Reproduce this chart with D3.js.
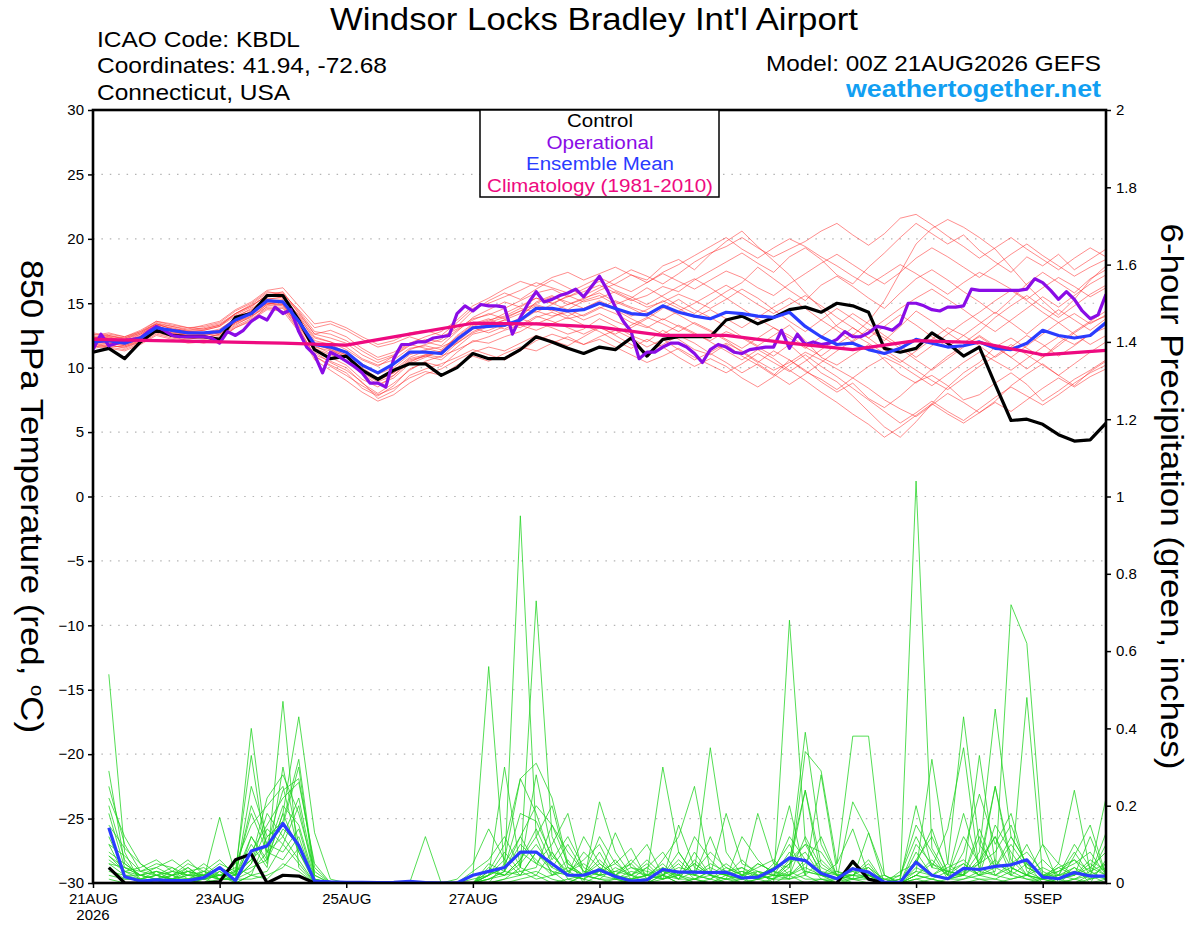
<!DOCTYPE html>
<html>
<head>
<meta charset="utf-8">
<script src="https://cdnjs.cloudflare.com/ajax/libs/d3/7.8.5/d3.min.js"></script>
<style>
  body { margin: 0; background: #fff; }
  svg text { font-family: "Liberation Sans", Arial, Helvetica, sans-serif; }
</style>
</head>
<body>
<div id="chart"></div>
<script>
'use strict';

// 6-hourly steps from 00Z 21AUG2026 (0..64)
var dayTickSteps = [0, 8, 16, 24, 32, 44, 52, 60];
var dayTickLabels = ['21AUG', '23AUG', '25AUG', '27AUG', '29AUG', '1SEP', '3SEP', '5SEP'];
var tempTicks = [-30, -25, -20, -15, -10, -5, 0, 5, 10, 15, 20, 25, 30];
var precipTicks = [0, 0.2, 0.4, 0.6, 0.8, 1, 1.2, 1.4, 1.6, 1.8, 2];

// control run, 850 hPa temperature (6-hourly)
var controlTemp = [
  11.2, 11.5, 10.7, 12.0, 12.9, 12.5, 12.4, 12.4, 12.2, 13.9,
  14.2, 15.6, 15.6, 13.7, 11.4, 10.7, 10.9, 9.8, 9.1, 9.8,
  10.3, 10.3, 9.4, 10.0, 11.1, 10.7, 10.7, 11.4, 12.4, 12.0,
  11.5, 11.1, 11.6, 11.4, 12.3, 10.9, 12.2, 12.4, 12.4, 12.4,
  13.7, 14.0, 13.4, 13.9, 14.5, 14.7, 14.3, 15.0, 14.8, 14.3,
  11.5, 11.2, 11.5, 12.7, 11.9, 10.9, 11.6, 8.7, 5.9, 6.0,
  5.6, 4.8, 4.3, 4.4, 5.7
];

// ensemble mean, 850 hPa temperature (6-hourly)
var meanTemp = [
  12.0, 12.1, 11.9, 12.3, 13.1, 12.9, 12.7, 12.7, 12.8, 13.7,
  14.2, 15.2, 15.1, 13.6, 11.8, 11.6, 11.2, 10.2, 9.6, 10.3,
  11.2, 11.2, 11.1, 12.2, 13.1, 13.2, 13.3, 13.7, 14.6, 14.6,
  14.4, 14.5, 15.0, 14.6, 14.2, 14.1, 14.8, 14.3, 14.0, 13.8,
  14.3, 14.2, 14.0, 13.9, 14.3, 13.2, 12.4, 11.8, 11.9, 11.4,
  11.1, 11.5, 12.2, 11.9, 11.6, 11.7, 12.0, 11.5, 11.4, 11.9,
  12.9, 12.5, 12.3, 12.5, 13.5
];

// operational run, 850 hPa temperature (3-hourly)
var operTemp = [
  11.4, 12.6, 11.7, 11.9, 12.1, 12.2, 12.3, 12.8, 13.2, 12.9,
  12.5, 12.4, 12.4, 12.4, 12.4, 12.3, 11.9, 12.8, 12.5, 12.9,
  13.6, 14.0, 13.7, 14.7, 14.2, 14.5, 12.8, 11.6, 11.0, 9.6,
  11.2, 10.9, 10.5, 10.1, 9.6, 8.8, 8.8, 8.5, 10.7, 11.8,
  11.8, 12.0, 12.0, 12.3, 12.4, 12.5, 14.2, 14.8, 14.4, 14.9,
  14.8, 14.8, 14.7, 12.6, 13.9, 15.0, 15.9, 15.1, 15.3, 15.6,
  15.8, 16.1, 15.5, 16.3, 17.1, 16.0, 14.7, 13.6, 12.8, 10.7,
  11.2, 11.2, 11.6, 11.9, 11.9, 11.6, 11.1, 10.4, 11.4, 11.8,
  11.6, 11.2, 11.1, 11.4, 11.5, 11.6, 11.6, 12.9, 11.5, 12.6,
  11.8, 12.0, 11.8, 11.9, 12.2, 12.8, 12.4, 12.4, 12.7, 13.2,
  13.1, 12.9, 13.4, 15.0, 15.0, 14.8, 14.5, 14.4, 14.7, 14.7,
  14.8, 16.1, 16.0, 16.0, 16.0, 16.0, 16.0, 16.0, 16.1, 16.9,
  16.6, 16.0, 15.3, 15.9, 15.3, 14.4, 13.8, 14.1, 15.7
];

// climatology 1981-2010 (daily)
var climTemp = [12.2, 12.1, 12.0, 11.9, 11.75, 12.6, 13.45, 13.4, 13.15, 12.5, 12.5, 11.9, 11.4, 12.1, 11.95, 11.0, 11.35];

// ensemble members, 850 hPa temperature (6-hourly)
var tempMembers = [
  [12.3, 12.5, 12.2, 12.6, 13.4, 13.0, 12.9, 13.1, 13.4, 14.2, 14.8, 15.6, 15.9, 14.2, 12.6, 12.9,
   12.4, 11.5, 10.8, 11.2, 11.9, 12.1, 12.4, 13.0, 13.8, 14.1, 14.6, 15.2, 15.8, 16.1, 15.5, 15.9,
   16.4, 15.8, 15.2, 15.6, 16.3, 15.9, 16.8, 17.5, 18.2, 18.9, 18.1, 17.4, 18.6, 19.3, 18.4, 17.2,
   16.5, 17.8, 18.9, 20.1, 21.2, 20.4, 19.6, 20.3, 19.1, 18.2, 17.4, 18.6, 17.9, 18.8, 17.6, 18.4, 19.2],
  [11.8, 11.6, 11.4, 11.9, 12.6, 12.3, 12.1, 11.9, 12.2, 13.1, 13.6, 14.8, 14.9, 13.1, 10.9, 10.2,
   9.6, 8.4, 7.8, 8.6, 9.9, 10.4, 10.1, 11.2, 12.1, 11.9, 12.4, 12.8, 13.5, 13.1, 12.6, 13.0,
   13.8, 13.2, 12.5, 12.0, 12.9, 12.2, 11.4, 11.0, 11.8, 10.9, 10.2, 9.4, 10.6, 9.8, 8.9, 8.1,
   8.8, 7.6, 6.9, 7.8, 8.9, 9.4, 8.6, 7.5, 7.9, 8.8, 9.6, 8.7, 7.4, 8.2, 9.1, 9.8, 10.6],
  [12.1, 12.4, 12.0, 12.5, 13.3, 12.8, 12.5, 12.6, 12.9, 13.9, 14.6, 15.4, 15.3, 13.9, 12.3, 12.0,
   11.4, 10.6, 10.1, 10.9, 11.8, 11.5, 11.2, 12.5, 13.4, 13.8, 13.2, 13.9, 15.1, 15.6, 14.9, 15.3,
   16.0, 16.5, 17.2, 16.8, 17.9, 18.4, 17.6, 18.8, 19.8, 20.6, 19.4, 18.3, 17.2, 15.8, 14.6, 13.2,
   12.5, 13.6, 15.2, 17.4, 19.6, 20.8, 21.5, 20.9, 20.1, 19.2, 17.8, 16.4, 15.2, 14.1, 15.3, 16.8, 17.9],
  [12.0, 11.9, 11.7, 12.2, 13.0, 12.7, 12.4, 12.3, 12.6, 13.5, 14.1, 15.0, 14.8, 13.2, 11.4, 10.8,
   10.2, 9.1, 8.5, 9.4, 10.6, 10.9, 10.6, 11.6, 12.6, 12.9, 13.4, 13.1, 13.9, 14.3, 13.8, 14.1,
   14.7, 14.2, 13.5, 13.1, 13.8, 13.2, 12.6, 12.1, 12.8, 12.3, 11.6, 10.9, 11.8, 10.7, 9.6, 8.9,
   7.8, 6.6, 5.4, 4.6, 5.8, 7.2, 8.5, 9.6, 10.4, 11.6, 12.3, 11.5, 10.8, 11.9, 12.8, 13.6, 14.4],
  [12.5, 12.7, 12.4, 12.9, 13.6, 13.3, 13.1, 13.2, 13.5, 14.4, 15.0, 15.9, 15.7, 14.5, 13.1, 13.4,
   12.9, 12.2, 11.6, 11.9, 12.4, 12.0, 11.7, 12.8, 13.9, 14.5, 15.1, 14.7, 15.4, 15.0, 14.5, 15.2,
   15.6, 14.9, 15.4, 16.2, 15.5, 14.8, 14.2, 15.1, 15.9, 16.6, 17.8, 16.9, 16.0, 15.2, 16.4, 17.1,
   16.3, 15.4, 14.6, 15.8, 16.9, 17.6, 16.8, 15.9, 15.1, 14.2, 15.3, 16.5, 17.4, 16.6, 15.8, 16.9, 17.6],
  [11.6, 11.8, 11.5, 12.0, 12.8, 12.5, 12.2, 12.4, 12.5, 13.4, 13.9, 14.9, 15.2, 13.4, 11.2, 10.4,
   9.8, 8.9, 7.6, 8.2, 9.4, 9.9, 10.3, 10.8, 11.4, 11.0, 10.6, 11.3, 12.1, 12.6, 12.2, 11.8,
   12.4, 12.9, 12.3, 11.6, 12.2, 11.4, 10.6, 11.2, 11.9, 11.3, 10.5, 9.8, 10.4, 11.2, 10.6, 9.9,
   9.2, 10.1, 10.8, 10.2, 9.4, 8.6, 9.5, 10.4, 11.2, 10.5, 9.8, 10.7, 11.6, 12.4, 11.8, 12.6, 13.3],
  [12.2, 12.3, 12.1, 12.4, 13.2, 12.9, 12.8, 12.9, 13.2, 14.0, 14.5, 15.3, 15.5, 14.0, 12.1, 11.8,
   11.2, 10.3, 9.6, 10.2, 11.4, 11.8, 12.2, 13.2, 14.4, 15.2, 15.8, 15.3, 16.1, 16.8, 16.2, 15.6,
   16.2, 16.9, 17.6, 17.1, 16.5, 17.3, 18.2, 18.9, 19.4, 20.1, 19.3, 18.6, 19.2, 19.8, 20.6, 21.2,
   20.3, 19.5, 20.4, 21.6, 21.9, 21.1, 20.2, 19.4, 18.5, 19.3, 20.1, 19.2, 18.4, 17.6, 18.5, 19.3, 18.6],
  [11.9, 12.0, 11.8, 12.3, 13.1, 12.6, 12.5, 12.5, 12.7, 13.6, 14.3, 15.2, 15.0, 13.5, 11.6, 11.3,
   10.9, 10.0, 9.2, 9.8, 10.8, 11.3, 11.0, 12.0, 13.0, 13.4, 13.0, 13.6, 14.4, 14.0, 14.3, 13.7,
   14.2, 13.6, 13.1, 13.8, 14.6, 15.3, 14.5, 13.9, 13.2, 12.4, 11.7, 12.5, 13.3, 12.1, 10.8, 10.2,
   11.0, 11.8, 10.6, 9.5, 8.8, 9.9, 10.9, 11.7, 12.4, 11.6, 10.8, 11.7, 12.6, 13.5, 14.2, 13.4, 14.1],
  [12.4, 12.2, 12.0, 12.6, 13.3, 13.1, 12.8, 12.7, 13.0, 13.8, 14.4, 15.5, 15.6, 13.8, 11.9, 11.4,
   11.0, 9.9, 9.0, 9.6, 10.7, 11.0, 10.8, 11.9, 12.8, 13.3, 13.7, 14.2, 14.8, 14.4, 14.9, 15.4,
   15.8, 15.1, 14.6, 14.0, 14.7, 14.1, 13.4, 12.8, 12.1, 11.2, 10.4, 11.3, 10.6, 9.7, 9.1, 8.3,
   9.2, 8.4, 7.5, 6.8, 6.2, 7.1, 8.0, 7.3, 6.5, 7.4, 8.6, 9.5, 10.3, 9.4, 8.6, 9.7, 10.5],
  [12.6, 12.4, 12.3, 12.7, 13.5, 13.2, 12.9, 13.0, 13.3, 14.1, 14.7, 15.7, 15.4, 14.1, 12.4, 12.0,
   11.6, 10.7, 10.2, 10.6, 11.5, 11.7, 11.4, 12.4, 13.3, 13.7, 14.0, 14.6, 14.3, 14.9, 15.6, 15.1,
   15.4, 15.9, 15.3, 14.7, 15.1, 15.7, 15.2, 14.6, 15.3, 16.1, 15.4, 14.5, 13.6, 12.8, 13.7, 14.6,
   13.8, 12.9, 12.1, 13.2, 14.4, 13.6, 12.7, 11.9, 12.8, 13.9, 14.8, 15.6, 14.7, 13.9, 14.8, 15.7, 16.4],
  [11.7, 11.5, 11.3, 11.8, 12.5, 12.2, 11.9, 12.0, 12.3, 13.2, 13.8, 14.6, 14.6, 12.9, 10.6, 9.8,
   9.0, 8.1, 7.4, 7.9, 8.8, 9.5, 9.9, 10.6, 11.2, 11.6, 11.3, 11.9, 12.5, 12.1, 11.7, 12.4,
   13.1, 12.6, 13.3, 13.9, 13.4, 12.8, 13.5, 12.9, 12.2, 11.5, 12.3, 13.1, 12.5, 11.6, 10.9, 11.8,
   12.6, 11.9, 11.1, 10.4, 11.3, 12.2, 13.1, 12.5, 11.7, 10.8, 11.6, 12.5, 11.8, 10.9, 11.7, 12.6, 13.1],
  [12.3, 12.6, 12.4, 12.8, 13.4, 13.2, 13.0, 13.3, 13.6, 14.5, 15.1, 16.0, 16.2, 14.8, 13.4, 13.6,
   13.1, 12.4, 11.8, 12.1, 12.7, 12.9, 12.5, 13.5, 14.6, 15.0, 15.5, 16.0, 16.6, 16.2, 15.8, 16.4,
   17.0, 16.4, 15.9, 16.6, 17.3, 16.7, 16.1, 16.8, 17.5, 17.0, 16.2, 15.6, 16.5, 17.3, 18.1, 18.8,
   18.0, 17.2, 16.5, 17.4, 18.5, 19.3, 18.6, 17.8, 17.0, 17.9, 18.8, 19.6, 18.7, 17.9, 17.1, 17.8, 18.4],
  [11.9, 11.7, 11.6, 12.1, 12.9, 12.4, 12.3, 12.2, 12.4, 13.3, 14.0, 14.7, 14.7, 13.0, 11.0, 10.5,
   10.0, 8.8, 8.0, 8.8, 9.8, 10.5, 10.9, 11.4, 12.0, 12.4, 12.9, 13.3, 12.9, 13.4, 13.9, 13.3,
   12.8, 12.1, 11.5, 12.2, 11.6, 10.8, 10.1, 10.7, 10.1, 9.2, 8.5, 9.3, 10.2, 11.0, 10.1, 9.3,
   8.4, 7.5, 6.6, 5.7, 6.5, 7.4, 6.6, 5.9, 6.8, 7.7, 8.5, 7.8, 7.1, 7.9, 8.8, 9.6, 10.2],
  [12.2, 12.1, 11.9, 12.4, 13.2, 12.8, 12.6, 12.6, 12.9, 13.7, 14.4, 15.3, 15.1, 13.6, 11.8, 11.5,
   11.0, 10.2, 9.5, 10.0, 11.0, 11.4, 11.6, 12.2, 13.1, 12.7, 13.2, 13.8, 13.4, 13.9, 14.5, 14.0,
   14.6, 15.2, 14.7, 14.3, 13.7, 14.4, 15.0, 15.7, 16.4, 15.7, 14.9, 14.2, 14.9, 15.6, 14.8, 13.9,
   13.1, 12.3, 13.2, 14.1, 13.3, 12.4, 11.6, 12.5, 13.4, 14.3, 13.5, 12.6, 13.6, 14.5, 13.7, 12.9, 13.8],
  [12.4, 12.3, 12.2, 12.7, 13.4, 13.0, 12.8, 12.9, 13.2, 14.2, 14.9, 15.8, 15.8, 14.4, 12.8, 12.6,
   12.1, 11.3, 10.6, 11.0, 11.9, 12.4, 12.8, 13.7, 14.8, 15.4, 16.1, 16.7, 16.3, 17.0, 17.4, 16.8,
   17.3, 17.8, 17.2, 16.6, 17.4, 18.0, 18.7, 19.4, 20.1, 19.2, 18.5, 19.3, 20.0, 19.4, 18.6, 17.9,
   17.1, 16.4, 17.2, 18.0, 17.3, 16.5, 15.7, 16.6, 17.4, 16.8, 16.1, 15.3, 16.2, 17.0, 16.3, 15.5, 16.2],
  [11.8, 11.9, 11.7, 12.1, 12.9, 12.6, 12.4, 12.3, 12.6, 13.5, 14.2, 15.0, 14.9, 13.3, 11.5, 11.0,
   10.5, 9.5, 8.7, 9.2, 10.3, 10.8, 11.3, 11.9, 12.7, 13.2, 13.7, 13.3, 14.0, 13.6, 13.1, 12.6,
   13.2, 12.5, 11.8, 11.2, 11.8, 12.5, 11.9, 11.1, 10.4, 9.6, 10.3, 9.5, 8.7, 9.5, 10.4, 11.3,
   12.1, 13.0, 12.3, 11.5, 10.6, 9.8, 10.7, 11.6, 12.5, 11.7, 10.8, 9.9, 10.8, 11.7, 12.7, 13.5, 14.0],
  [12.7, 12.5, 12.3, 12.8, 13.6, 13.4, 13.1, 13.0, 13.3, 14.2, 14.8, 15.6, 15.6, 14.3, 12.6, 12.3,
   11.9, 11.0, 10.4, 10.9, 11.7, 12.2, 12.0, 12.9, 13.7, 14.2, 13.8, 14.4, 15.0, 15.5, 15.1, 14.6,
   15.2, 14.6, 14.0, 14.5, 15.2, 14.6, 13.9, 14.5, 13.8, 13.1, 13.9, 14.7, 15.4, 14.6, 13.7, 12.9,
   12.0, 12.8, 13.7, 14.6, 15.4, 16.1, 15.3, 14.5, 13.6, 12.8, 13.7, 14.6, 15.5, 14.7, 15.6, 16.5, 17.2],
  [12.0, 12.2, 12.0, 12.4, 13.1, 12.8, 12.6, 12.6, 12.8, 13.6, 14.2, 15.1, 15.0, 13.5, 11.7, 11.1,
   10.6, 9.6, 8.9, 9.4, 10.4, 11.0, 11.2, 12.1, 13.0, 13.5, 13.9, 14.4, 14.9, 14.5, 14.0, 14.6,
   15.1, 14.5, 13.8, 13.2, 12.6, 13.3, 12.7, 12.0, 11.3, 10.6, 11.4, 10.7, 9.8, 9.0, 8.1, 7.3,
   6.4, 5.6, 4.6, 5.4, 6.3, 7.2, 6.4, 5.7, 6.5, 7.3, 6.6, 7.5, 8.4, 9.2, 8.5, 9.3, 9.9],
  [12.1, 12.0, 11.8, 12.2, 12.9, 12.7, 12.5, 12.5, 12.7, 13.5, 14.0, 14.9, 15.1, 13.6, 11.8, 11.4,
   10.8, 9.8, 9.1, 9.6, 10.5, 10.9, 11.3, 12.3, 13.2, 13.6, 14.2, 14.8, 15.4, 15.0, 15.5, 16.1,
   16.7, 16.0, 15.5, 14.9, 15.6, 16.3, 16.9, 16.2, 15.4, 14.6, 13.8, 13.1, 12.3, 11.5, 12.4, 13.3,
   14.2, 13.4, 12.5, 11.7, 10.8, 11.7, 12.6, 13.5, 14.3, 15.2, 16.0, 15.2, 14.3, 13.5, 12.6, 11.8, 12.5],
  [11.5, 11.7, 11.6, 12.0, 12.7, 12.4, 12.1, 12.1, 12.3, 13.1, 13.7, 14.5, 14.4, 12.8, 10.9, 10.1,
   9.4, 8.6, 7.9, 8.4, 9.2, 9.7, 9.4, 10.2, 10.9, 10.5, 11.1, 11.6, 11.3, 11.9, 12.4, 11.8,
   12.2, 11.6, 11.0, 10.4, 10.9, 11.5, 10.8, 10.2, 9.6, 10.3, 11.1, 10.4, 9.7, 10.5, 11.4, 12.2,
   13.1, 12.3, 11.4, 10.6, 9.8, 9.0, 8.3, 9.2, 10.1, 10.9, 11.8, 11.0, 10.2, 9.4, 10.3, 11.2, 12.0]
];

// 6-hour precipitation, steps 1..64 (06Z 21AUG onwards)
var controlPrecip = [
  0.04, 0, 0, 0, 0, 0, 0, 0.003, 0.06, 0.075, 0, 0.02, 0.018, 0, 0, 0,
  0, 0, 0, 0, 0, 0, 0, 0, 0, 0, 0, 0, 0, 0, 0, 0,
  0, 0, 0, 0, 0, 0, 0, 0, 0, 0, 0, 0, 0, 0, 0, 0.056,
  0.01, 0, 0, 0, 0, 0, 0, 0, 0, 0, 0, 0, 0, 0, 0, 0
];

var meanPrecip = [
  0.143, 0.016, 0.005, 0.008, 0.006, 0.006, 0.014, 0.04, 0.006, 0.083, 0.096, 0.154, 0.097, 0.005, 0.003, 0.002,
  0.002, 0.001, 0.002, 0.004, 0.001, 0, 0, 0.02, 0.03, 0.04, 0.08, 0.08, 0.05, 0.02, 0.02, 0.034,
  0.017, 0.005, 0.008, 0.035, 0.028, 0.028, 0.027, 0.028, 0.013, 0.015, 0.035, 0.065, 0.058, 0.025, 0.011, 0.037,
  0.028, 0.002, 0.002, 0.054, 0.02, 0.011, 0.038, 0.035, 0.043, 0.047, 0.06, 0.015, 0.011, 0.027, 0.018, 0.018
];

var precipMembers = [
  [0.54, 0.08, 0, 0, 0.02, 0, 0, 0.03, 0, 0.12, 0.05, 0.47, 0.04, 0, 0, 0,
   0, 0, 0, 0, 0, 0, 0, 0.02, 0.56, 0.03, 0.02, 0.08, 0.03, 0, 0.02, 0.05,
   0.02, 0, 0, 0.04, 0.01, 0.06, 0.02, 0, 0, 0.03, 0, 0.68, 0.11, 0.02, 0, 0.05,
   0.02, 0, 0, 0.06, 0.12, 0.03, 0.02, 0.08, 0.45, 0.12, 0.05, 0, 0.02, 0.04, 0, 0.06],
  [0.29, 0.05, 0.02, 0.04, 0.06, 0.03, 0.01, 0.17, 0.02, 0.40, 0.08, 0.12, 0.06, 0, 0, 0,
   0, 0, 0, 0, 0, 0, 0, 0, 0.05, 0.03, 0.95, 0.12, 0.02, 0.06, 0, 0.21,
   0.08, 0.02, 0, 0.02, 0.05, 0.01, 0.03, 0.02, 0.06, 0.02, 0.01, 0.04, 0.39, 0.1, 0.02, 0,
   0, 0, 0.01, 1.04, 0.09, 0.02, 0.05, 0.02, 0.03, 0.72, 0.62, 0.1, 0, 0.03, 0.01, 0.05],
  [0.25, 0.1, 0.03, 0.05, 0.04, 0.01, 0.02, 0.05, 0.03, 0.33, 0.06, 0.18, 0.43, 0.13, 0.01, 0,
   0, 0, 0, 0, 0.12, 0, 0, 0, 0.02, 0.3, 0.04, 0.73, 0.12, 0.03, 0.05, 0.02,
   0.13, 0.04, 0.02, 0.3, 0.08, 0.02, 0.01, 0.04, 0.02, 0.05, 0.03, 0.01, 0.34, 0.29, 0.05, 0.38,
   0.38, 0.02, 0, 0.03, 0.32, 0.05, 0.43, 0.1, 0.04, 0.02, 0.48, 0.02, 0, 0.07, 0.15, 0.02],
  [0.2, 0.06, 0.01, 0.02, 0.03, 0.06, 0.02, 0.01, 0.01, 0.25, 0.12, 0.16, 0.32, 0.02, 0, 0,
   0, 0, 0, 0, 0, 0, 0.01, 0.05, 0.14, 0.06, 0.27, 0.31, 0.22, 0.05, 0.02, 0.03,
   0.05, 0.09, 0.01, 0.06, 0.12, 0.25, 0.03, 0.02, 0.01, 0.18, 0.05, 0.04, 0.24, 0.02, 0.01, 0.21,
   0.13, 0, 0.02, 0.12, 0.04, 0.14, 0.35, 0.03, 0.25, 0.04, 0.02, 0.1, 0.05, 0.24, 0.03, 0.22],
  [0.18, 0.04, 0.02, 0.03, 0.02, 0.05, 0.03, 0.02, 0.02, 0.06, 0.22, 0.28, 0.18, 0.03, 0, 0,
   0, 0, 0, 0, 0, 0, 0, 0.02, 0.03, 0.1, 0.27, 0.18, 0.06, 0.12, 0.04, 0.02,
   0.03, 0.05, 0.1, 0.02, 0.04, 0.03, 0.35, 0.08, 0.02, 0.01, 0.05, 0.2, 0.02, 0.28, 0.03, 0.02,
   0.01, 0, 0, 0.02, 0.05, 0.02, 0.02, 0.33, 0.05, 0.03, 0.1, 0.02, 0.01, 0.04, 0.02, 0.13],
  [0.15, 0.09, 0.05, 0.02, 0.01, 0.03, 0.04, 0.01, 0.05, 0.15, 0.2, 0.25, 0.08, 0, 0, 0,
   0, 0, 0, 0, 0, 0, 0, 0, 0, 0.05, 0.12, 0.2, 0.15, 0.05, 0.02, 0.06,
   0.02, 0.01, 0.04, 0.08, 0.02, 0.12, 0.06, 0.02, 0.04, 0.02, 0.01, 0.06, 0.24, 0.05, 0.02, 0.01,
   0.13, 0.02, 0, 0.05, 0.02, 0.01, 0.08, 0.23, 0.1, 0.18, 0.03, 0.01, 0.05, 0.02, 0.06, 0.03],
  [0.12, 0.03, 0.04, 0.06, 0.03, 0.02, 0.01, 0.02, 0.01, 0.08, 0.15, 0.22, 0.26, 0.05, 0, 0,
   0, 0, 0, 0, 0, 0, 0, 0.03, 0.06, 0.12, 0.04, 0.28, 0.08, 0.02, 0.01, 0.04,
   0.01, 0.03, 0.02, 0.01, 0.15, 0.04, 0.02, 0.18, 0.05, 0.03, 0.02, 0.05, 0.08, 0.02, 0.01, 0.02,
   0.04, 0.01, 0.02, 0.15, 0.08, 0.01, 0.03, 0.05, 0.25, 0.06, 0.02, 0.01, 0.04, 0.02, 0.12, 0.02],
  [0.1, 0.02, 0.01, 0.02, 0.04, 0.02, 0.02, 0.04, 0.02, 0.1, 0.04, 0.3, 0.1, 0, 0, 0,
   0, 0, 0, 0, 0, 0, 0, 0, 0.02, 0.04, 0.08, 0.05, 0.1, 0.18, 0.02, 0.01,
   0.04, 0.02, 0.01, 0.03, 0.02, 0.05, 0.02, 0.01, 0.12, 0.06, 0.02, 0.02, 0.05, 0.12, 0.02, 0.02,
   0.02, 0, 0, 0.04, 0.02, 0.01, 0.02, 0.12, 0.02, 0.05, 0.08, 0.03, 0.01, 0.02, 0.04, 0.08],
  [0.08, 0.05, 0.02, 0.01, 0.02, 0.04, 0.01, 0.03, 0.01, 0.05, 0.18, 0.12, 0.22, 0.02, 0, 0,
   0, 0, 0, 0, 0, 0, 0, 0, 0.04, 0.02, 0.05, 0.1, 0.04, 0.02, 0.12, 0.05,
   0.02, 0.04, 0.03, 0.02, 0.06, 0.02, 0.04, 0.02, 0.03, 0.01, 0.04, 0.1, 0.02, 0.06, 0.02, 0.01,
   0.02, 0, 0, 0.02, 0.06, 0.02, 0.18, 0.04, 0.02, 0.04, 0.02, 0.06, 0.02, 0.01, 0.03, 0.01],
  [0.07, 0.04, 0.03, 0.02, 0.01, 0.02, 0.05, 0.02, 0.04, 0.02, 0.12, 0.15, 0.3, 0.01, 0, 0,
   0, 0, 0, 0, 0, 0, 0, 0.01, 0.02, 0.08, 0.03, 0.04, 0.15, 0.08, 0.03, 0.02,
   0.06, 0.01, 0.02, 0.05, 0.01, 0.03, 0.08, 0.04, 0.02, 0.04, 0.06, 0.02, 0.04, 0.02, 0.05, 0.14,
   0.02, 0.01, 0, 0.08, 0.02, 0.05, 0.02, 0.06, 0.12, 0.02, 0.05, 0.02, 0.02, 0.08, 0.02, 0.04],
  [0.06, 0.03, 0.01, 0.03, 0.02, 0.01, 0.03, 0.01, 0.03, 0.06, 0.1, 0.08, 0.14, 0, 0, 0,
   0, 0, 0, 0, 0, 0, 0, 0, 0.01, 0.03, 0.1, 0.06, 0.02, 0.04, 0.02, 0.08,
   0.01, 0.02, 0.05, 0.01, 0.03, 0.02, 0.01, 0.03, 0.01, 0.02, 0.01, 0.05, 0.1, 0.03, 0.02, 0.03,
   0.01, 0.02, 0, 0.02, 0.01, 0.03, 0.05, 0.02, 0.06, 0.02, 0.01, 0.01, 0.03, 0.06, 0.01, 0.02],
  [0.05, 0.02, 0.02, 0.01, 0.02, 0.03, 0.02, 0.04, 0.02, 0.04, 0.06, 0.18, 0.08, 0.01, 0, 0,
   0, 0, 0, 0, 0, 0, 0, 0, 0.03, 0.02, 0.06, 0.14, 0.05, 0.02, 0.01, 0.03,
   0.02, 0.06, 0.02, 0.01, 0.02, 0.05, 0.02, 0.01, 0.02, 0.01, 0.03, 0.02, 0.06, 0.01, 0.01, 0.02,
   0.06, 0, 0.01, 0.03, 0.02, 0.01, 0.04, 0.02, 0.04, 0.1, 0.04, 0.02, 0.01, 0.02, 0.05, 0.02],
  [0.04, 0.01, 0.01, 0.02, 0.01, 0.01, 0.02, 0.01, 0.01, 0.03, 0.08, 0.06, 0.12, 0, 0, 0,
   0, 0, 0, 0, 0, 0, 0, 0, 0, 0.01, 0.04, 0.02, 0.08, 0.01, 0.02, 0.01,
   0.01, 0.01, 0.02, 0.03, 0.01, 0.01, 0.02, 0.01, 0.01, 0.02, 0.01, 0.01, 0.03, 0.02, 0.01, 0.01,
   0.01, 0, 0, 0.01, 0.02, 0.01, 0.01, 0.03, 0.02, 0.01, 0.02, 0.01, 0, 0.01, 0.02, 0.01],
  [0.03, 0.02, 0, 0.01, 0.01, 0, 0.01, 0.02, 0, 0.02, 0.03, 0.1, 0.05, 0, 0, 0,
   0, 0, 0, 0, 0, 0, 0, 0, 0.01, 0.02, 0.03, 0.01, 0.02, 0.03, 0.01, 0,
   0.01, 0, 0.01, 0.02, 0, 0.01, 0, 0.02, 0, 0.01, 0.02, 0.01, 0.02, 0, 0.01, 0,
   0, 0, 0, 0.02, 0.01, 0, 0.01, 0.02, 0.01, 0.03, 0.01, 0, 0.01, 0, 0.01, 0.02],
  [0.02, 0.01, 0.01, 0, 0.01, 0.01, 0, 0.01, 0.01, 0.01, 0.02, 0.04, 0.09, 0, 0, 0,
   0, 0, 0, 0, 0, 0, 0, 0, 0, 0.01, 0.02, 0.03, 0.01, 0, 0.02, 0.01,
   0, 0.01, 0, 0.01, 0.02, 0, 0.01, 0, 0.01, 0, 0.01, 0.03, 0.01, 0.01, 0, 0.01,
   0, 0, 0, 0.01, 0, 0.01, 0.02, 0.01, 0, 0.01, 0.02, 0, 0, 0.01, 0, 0.01],
  [0.01, 0, 0, 0.01, 0, 0, 0.01, 0, 0, 0.02, 0.01, 0.05, 0.03, 0, 0, 0,
   0, 0, 0, 0, 0, 0, 0, 0, 0, 0, 0.01, 0.02, 0, 0.01, 0, 0.02,
   0.01, 0, 0, 0.02, 0, 0.01, 0, 0.01, 0, 0.01, 0, 0.02, 0, 0.01, 0, 0,
   0, 0, 0, 0, 0.01, 0, 0, 0.01, 0.01, 0, 0, 0.01, 0, 0, 0.02, 0],
  [0.22, 0.12, 0.05, 0.02, 0.01, 0.02, 0.03, 0.06, 0.02, 0.2, 0.1, 0.24, 0.27, 0.04, 0, 0,
   0, 0, 0, 0, 0, 0, 0, 0, 0.02, 0.04, 0.18, 0.16, 0.07, 0.03, 0.06, 0.1,
   0.02, 0.05, 0.01, 0.02, 0.08, 0.02, 0.05, 0.03, 0.04, 0.01, 0.02, 0.08, 0.03, 0.02, 0.01, 0.04,
   0.02, 0, 0.03, 0.05, 0.14, 0.02, 0.12, 0.05, 0.08, 0.15, 0.04, 0.02, 0.03, 0.05, 0.08, 0.02],
  [0.1, 0.07, 0.03, 0.04, 0.02, 0.03, 0.02, 0.02, 0.03, 0.18, 0.08, 0.2, 0.15, 0.01, 0, 0,
   0, 0, 0, 0, 0, 0, 0, 0, 0.03, 0.02, 0.06, 0.12, 0.2, 0.04, 0.02, 0.12,
   0.05, 0.02, 0.06, 0.02, 0.01, 0.08, 0.02, 0.05, 0.02, 0.03, 0.02, 0.02, 0.12, 0.04, 0.02, 0.02,
   0.05, 0, 0.01, 0.2, 0.04, 0.03, 0.02, 0.05, 0.12, 0.04, 0.02, 0.04, 0.02, 0.03, 0.02, 0.1],
  [0.05, 0.04, 0.02, 0.01, 0.03, 0.02, 0.02, 0.01, 0.01, 0.05, 0.14, 0.1, 0.2, 0.01, 0, 0,
   0, 0, 0, 0, 0, 0, 0, 0, 0.02, 0.06, 0.02, 0.08, 0.04, 0.1, 0.03, 0.02,
   0.03, 0.02, 0.04, 0.01, 0.03, 0.02, 0.12, 0.02, 0.01, 0.05, 0.03, 0.12, 0.06, 0.02, 0.03, 0.01,
   0.02, 0.01, 0, 0.06, 0.02, 0.04, 0.06, 0.02, 0.15, 0.08, 0.02, 0.01, 0.02, 0.1, 0.04, 0.02],
  [0.07, 0.03, 0.02, 0.03, 0.01, 0.04, 0.01, 0.02, 0.02, 0.12, 0.06, 0.14, 0.1, 0, 0, 0,
   0, 0, 0, 0, 0, 0, 0, 0, 0.01, 0.03, 0.12, 0.05, 0.03, 0.02, 0.08, 0.04,
   0.02, 0.01, 0.02, 0.04, 0.02, 0.01, 0.03, 0.02, 0.03, 0.02, 0.04, 0.06, 0.1, 0.08, 0.02, 0.03,
   0.04, 0, 0, 0.1, 0.05, 0.03, 0.02, 0.14, 0.04, 0.12, 0.05, 0.02, 0.04, 0.06, 0.03, 0.05]
];

function drawChart() {
  var W = 1200, H = 927;
  var plot = { left: 93, right: 1106, top: 110, bottom: 883 };

  var x = d3.scaleLinear().domain([0, 64]).range([plot.left, plot.right]);
  var yT = d3.scaleLinear().domain([-30, 30]).range([plot.bottom, plot.top]);
  var yP = d3.scaleLinear().domain([0, 2]).range([plot.bottom, plot.top]);

  var svg = d3.select('#chart').append('svg')
    .attr('width', W)
    .attr('height', H);

  svg.append('defs').append('clipPath').attr('id', 'plotClip')
    .append('rect')
    .attr('x', plot.left).attr('y', plot.top)
    .attr('width', plot.right - plot.left).attr('height', plot.bottom - plot.top);

  // dotted grid on temperature ticks
  svg.append('g').selectAll('line')
    .data(tempTicks.slice(1, -1))
    .join('line')
    .attr('x1', plot.left).attr('x2', plot.right)
    .attr('y1', function(d) { return yT(d); })
    .attr('y2', function(d) { return yT(d); })
    .attr('stroke', '#b4b4b4')
    .attr('stroke-width', 1.2)
    .attr('stroke-dasharray', '1.5,6.9');

  var lineT = d3.line().x(function(d, i) { return x(i); }).y(function(d) { return yT(d); });
  var lineOp = d3.line().x(function(d, i) { return x(i / 2); }).y(function(d) { return yT(d); });
  var lineClim = d3.line().x(function(d, i) { return x(i * 4); }).y(function(d) { return yT(d); });
  var lineP = d3.line().x(function(d, i) { return x(i + 1); }).y(function(d) { return yP(d); });

  var g = svg.append('g').attr('clip-path', 'url(#plotClip)');

  g.append('g').selectAll('path')
    .data(precipMembers)
    .join('path')
    .attr('d', lineP)
    .attr('fill', 'none')
    .attr('stroke', '#1ed21e')
    .attr('stroke-opacity', 0.85)
    .attr('stroke-width', 0.9);

  g.append('g').selectAll('path')
    .data(tempMembers)
    .join('path')
    .attr('d', lineT)
    .attr('fill', 'none')
    .attr('stroke', '#ff2a2a')
    .attr('stroke-opacity', 0.6)
    .attr('stroke-width', 0.9);

  function thick(path, color) {
    g.append('path')
      .attr('d', path)
      .attr('fill', 'none')
      .attr('stroke', color)
      .attr('stroke-width', 3.2)
      .attr('stroke-linejoin', 'round');
  }

  thick(lineT(controlTemp), '#000000');
  thick(lineP(controlPrecip), '#000000');
  thick(lineOp(operTemp), '#8a0ce6');
  thick(lineT(meanTemp), '#2a3cff');
  thick(lineP(meanPrecip), '#2a3cff');
  thick(lineClim(climTemp), '#ee0a80');

  // axes
  var axisFont = 15;
  var left = svg.append('g')
    .attr('transform', 'translate(' + plot.left + ',0)')
    .call(d3.axisLeft(yT).tickValues(tempTicks).tickSize(5).tickPadding(4));
  var right = svg.append('g')
    .attr('transform', 'translate(' + plot.right + ',0)')
    .call(d3.axisRight(yP).tickValues(precipTicks).tickSize(5).tickPadding(5)
      .tickFormat(function(d) { return d3.format('~g')(d); }));
  var bottom = svg.append('g')
    .attr('transform', 'translate(0,' + plot.bottom + ')')
    .call(d3.axisBottom(x).tickValues(dayTickSteps).tickSize(5).tickPadding(5)
      .tickFormat(function(d, i) { return dayTickLabels[i]; }));

  [left, right, bottom].forEach(function(ax) {
    ax.select('.domain').remove();
    ax.selectAll('line').attr('stroke', '#000').attr('stroke-width', 1.5);
    ax.selectAll('text')
      .attr('fill', '#000')
      .style('font-size', axisFont + 'px')
      .style('font-family', '"Liberation Sans", Arial, sans-serif');
  });

  bottom.append('text')
    .attr('x', x(0)).attr('y', 37)
    .attr('text-anchor', 'middle')
    .attr('fill', '#000')
    .style('font-size', axisFont + 'px')
    .text('2026');

  // frame
  svg.append('rect')
    .attr('x', plot.left).attr('y', plot.top)
    .attr('width', plot.right - plot.left).attr('height', plot.bottom - plot.top)
    .attr('fill', 'none')
    .attr('stroke', '#000')
    .attr('stroke-width', 2.6);

  // legend
  var legend = svg.append('g');
  legend.append('rect')
    .attr('x', 480).attr('y', plot.top)
    .attr('width', 239).attr('height', 87)
    .attr('fill', '#fff')
    .attr('stroke', '#000')
    .attr('stroke-width', 1.5);
  var legendItems = [
    { text: 'Control', color: '#000000', w: 66 },
    { text: 'Operational', color: '#8a0ce6', w: 107 },
    { text: 'Ensemble Mean', color: '#2a3cff', w: 148 },
    { text: 'Climatology (1981-2010)', color: '#ee0a80', w: 226 }
  ];
  legend.selectAll('text')
    .data(legendItems)
    .join('text')
    .attr('x', 600)
    .attr('y', function(d, i) { return 127 + i * 21.6; })
    .attr('text-anchor', 'middle')
    .attr('fill', function(d) { return d.color; })
    .attr('textLength', function(d) { return d.w; })
    .attr('lengthAdjust', 'spacingAndGlyphs')
    .style('font-size', '18px')
    .text(function(d) { return d.text; });

  // header texts
  function label(txt, xPos, yPos, size, anchor, width, color, weight) {
    return svg.append('text')
      .attr('x', xPos).attr('y', yPos)
      .attr('text-anchor', anchor)
      .attr('fill', color || '#000')
      .attr('textLength', width)
      .attr('lengthAdjust', 'spacingAndGlyphs')
      .style('font-size', size + 'px')
      .style('font-weight', weight || 'normal')
      .text(txt);
  }

  label("Windsor Locks Bradley Int'l Airport", 594, 30, 31, 'middle', 528);
  label('ICAO Code: KBDL', 97, 47, 22, 'start', 203);
  label('Coordinates: 41.94, -72.68', 97, 73, 22, 'start', 290);
  label('Connecticut, USA', 97, 100, 22, 'start', 193);
  label('Model: 00Z 21AUG2026 GEFS', 1101, 71, 22, 'end', 335);
  label('weathertogether.net', 1101, 97, 23, 'end', 255, '#129ff2', 'bold');

  // axis titles, reading top to bottom
  var leftTitle = svg.append('text')
    .attr('transform', 'translate(21,' + ((plot.top + plot.bottom) / 2) + ') rotate(90)')
    .attr('text-anchor', 'middle')
    .attr('fill', '#000')
    .attr('textLength', 473)
    .attr('lengthAdjust', 'spacingAndGlyphs')
    .style('font-size', '31px');
  leftTitle.append('tspan').text('850 hPa Temperature (red, ');
  leftTitle.append('tspan').attr('dy', -10).style('font-size', '18px').text('o');
  leftTitle.append('tspan').attr('dy', 10).text('C)');

  svg.append('text')
    .attr('transform', 'translate(1161,' + ((plot.top + plot.bottom) / 2) + ') rotate(90)')
    .attr('text-anchor', 'middle')
    .attr('fill', '#000')
    .attr('textLength', 546)
    .attr('lengthAdjust', 'spacingAndGlyphs')
    .style('font-size', '31px')
    .text('6-hour Precipitation (green, inches)');
}

drawChart();
</script>
</body>
</html>
